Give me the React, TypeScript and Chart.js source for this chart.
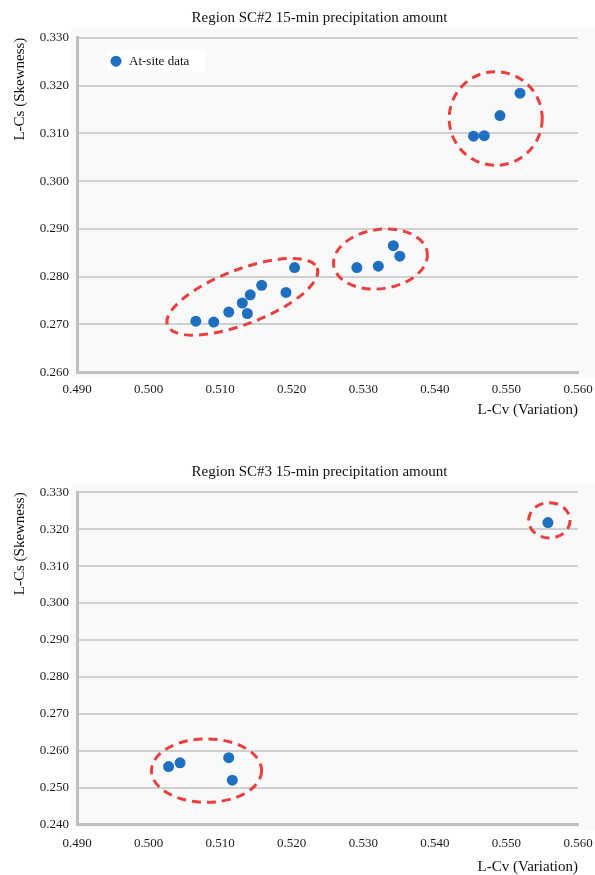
import React, { useEffect, useRef } from "react";
import { Chart, registerables } from "chart.js";

Chart.register(...registerables);

const FONT = "'Liberation Serif', 'Times New Roman', serif";

// Tick values
const xTicks = [0.49, 0.5, 0.51, 0.52, 0.53, 0.54, 0.55, 0.56];
const yTicksSC2 = [0.26, 0.27, 0.28, 0.29, 0.3, 0.31, 0.32, 0.33];
const yTicksSC3 = [0.24, 0.25, 0.26, 0.27, 0.28, 0.29, 0.3, 0.31, 0.32, 0.33];

// Region SC#2 at-site data
const sc2Lcv = [0.5066, 0.5091, 0.5112, 0.5131, 0.5142, 0.5138, 0.5158, 0.5192, 0.5204, 0.5291, 0.5321, 0.5342, 0.5351, 0.5454, 0.5469, 0.5491, 0.5519];
const sc2Lcs = [0.2707, 0.2705, 0.2726, 0.2745, 0.2762, 0.2723, 0.2782, 0.2767, 0.2819, 0.2819, 0.2822, 0.2865, 0.2843, 0.3094, 0.3095, 0.3137, 0.3184];

// Region SC#3 at-site data
const sc3Lcv = [0.5028, 0.5044, 0.5112, 0.5117, 0.5558];
const sc3Lcs = [0.2557, 0.2567, 0.2581, 0.252, 0.3218];

// Group outlines (data units: centre, half-extents, rotation in degrees)
const sc2Groups = [
  { x: 0.5131, y: 0.2758, rx: 0.0112, ry: 0.0057, rot: -21 },
  { x: 0.5324, y: 0.2837, rx: 0.0066, ry: 0.0062, rot: -8 },
  { x: 0.5485, y: 0.3131, rx: 0.0065, ry: 0.0098, rot: 0 },
];
const sc3Groups = [
  { x: 0.5081, y: 0.2546, rx: 0.0077, ry: 0.0086, rot: 0 },
  { x: 0.556, y: 0.3224, rx: 0.0029, ry: 0.0048, rot: 0 },
];

type Group = { x: number; y: number; rx: number; ry: number; rot: number };

type PanelProps = {
  title: string;
  xs: number[];
  ys: number[];
  yTicks: number[];
  groups: Group[];
  legend: boolean;
  height: number;
  padTop: number;
  padBottom: number;
  xAxisH: number;
  xTickPad: number;
};

function Panel(p: PanelProps) {
  const ref = useRef<HTMLCanvasElement>(null);
  useEffect(() => {
    const canvas = ref.current!;
    const bgPlugin = {
      id: "panelBg",
      beforeDraw(chart: any) {
        const { ctx, chartArea } = chart;
        ctx.save();
        ctx.fillStyle = "#ffffff";
        ctx.fillRect(0, 0, chart.width, chart.height);
        ctx.fillStyle = "#f9f9f9";
        ctx.fillRect(chartArea.left - 6, chartArea.top - 9, chart.width - chartArea.left + 6, chartArea.bottom - chartArea.top + 14);
        ctx.restore();
      },
    };
    const ellipsePlugin = {
      id: "groupOutlines",
      afterDatasetsDraw(chart: any) {
        const { ctx } = chart;
        const sx = chart.scales.x;
        const sy = chart.scales.y;
        ctx.save();
        for (const e of p.groups) {
          const cx = sx.getPixelForValue(e.x);
          const cy = sy.getPixelForValue(e.y);
          const rx = Math.abs(sx.getPixelForValue(e.x + e.rx) - cx);
          const ry = Math.abs(sy.getPixelForValue(e.y + e.ry) - cy);
          ctx.beginPath();
          ctx.ellipse(cx, cy, rx, ry, (e.rot * Math.PI) / 180, 0, Math.PI * 2);
          ctx.setLineDash([9, 6]);
          ctx.lineWidth = 3;
          ctx.strokeStyle = "#e8403e";
          ctx.stroke();
        }
        ctx.restore();
      },
    };
    const titlePlugin = {
      id: "panelTitle",
      afterDraw(chart: any) {
        const { ctx, chartArea } = chart;
        ctx.save();
        ctx.font = `15px ${FONT}`;
        ctx.fillStyle = "#111111";
        ctx.textAlign = "center";
        ctx.textBaseline = "middle";
        ctx.fillText(p.title, (chartArea.left + chartArea.right) / 2 - 8, chartArea.top - 20);
        ctx.restore();
      },
    };
    const legendPlugin = {
      id: "insideLegend",
      afterDraw(chart: any) {
        if (!p.legend) return;
        const { ctx, chartArea } = chart;
        const ds = chart.data.datasets[0];
        const bx = chartArea.left + 30;
        const by = chartArea.top + 12;
        ctx.save();
        ctx.fillStyle = "#ffffff";
        ctx.fillRect(bx, by, 98, 22);
        ctx.beginPath();
        ctx.arc(bx + 9, by + 11.5, 5.5, 0, Math.PI * 2);
        ctx.fillStyle = ds.backgroundColor;
        ctx.fill();
        ctx.font = `13px ${FONT}`;
        ctx.fillStyle = "#111111";
        ctx.textAlign = "left";
        ctx.textBaseline = "middle";
        ctx.fillText(ds.label, bx + 22, by + 12);
        ctx.restore();
      },
    };

    const chart = new Chart(canvas, {
      type: "scatter",
      data: {
        datasets: [
          {
            label: "At-site data",
            data: p.xs.map((x, i) => ({ x, y: p.ys[i] })),
            backgroundColor: "#1f6fc0",
            borderColor: "#1f6fc0",
            borderWidth: 0,
            pointRadius: 5.5,
            pointHoverRadius: 5.5,
          },
        ],
      },
      options: {
        responsive: false,
        animation: false,
        devicePixelRatio: 1,
        layout: { padding: { top: p.padTop, left: 0, right: 17, bottom: p.padBottom } },
        plugins: {
          legend: { display: false },
          tooltip: { enabled: false },
          title: { display: false },
        },
        scales: {
          x: {
            type: "linear",
            min: xTicks[0],
            max: xTicks[xTicks.length - 1],
            afterBuildTicks: (s: any) => {
              s.ticks = xTicks.map((v) => ({ value: v }));
            },
            afterFit: (s: any) => {
              s.height = p.xAxisH;
              s.paddingLeft = 0;
              s.paddingRight = 0;
            },
            grid: { display: false, drawTicks: false },
            border: { display: true, width: 3, color: "#c0c0c0" },
            ticks: {
              padding: p.xTickPad,
              color: "#1a1a1a",
              font: { family: FONT, size: 13 },
              maxRotation: 0,
              autoSkip: false,
              callback: (v: any) => Number(v).toFixed(3),
            },
            title: {
              display: true,
              text: "L-Cv (Variation)",
              align: "end",
              color: "#111111",
              font: { family: FONT, size: 15, lineHeight: 1 },
              padding: { top: 0, bottom: 0 },
            },
          },
          y: {
            type: "linear",
            min: p.yTicks[0],
            max: p.yTicks[p.yTicks.length - 1],
            afterBuildTicks: (s: any) => {
              s.ticks = p.yTicks.map((v) => ({ value: v }));
            },
            afterFit: (s: any) => {
              s.width = 77;
              s.paddingTop = 0;
              s.paddingBottom = 0;
            },
            grid: { color: "#d0d0d0", lineWidth: 2, drawTicks: false },
            border: { display: true, width: 3, color: "#c0c0c0" },
            ticks: {
              padding: 8,
              color: "#1a1a1a",
              font: { family: FONT, size: 13 },
              autoSkip: false,
              callback: (v: any) => Number(v).toFixed(3),
            },
            title: {
              display: true,
              text: "L-Cs (Skewness)",
              align: "end",
              color: "#111111",
              font: { family: FONT, size: 15, lineHeight: 1 },
              padding: { top: 12.5, bottom: 0 },
            },
          },
        },
      } as any,
      plugins: [bgPlugin, ellipsePlugin, titlePlugin, legendPlugin],
    });
    return () => chart.destroy();
  }, []);
  return <canvas ref={ref} width={595} height={p.height} style={{ display: "block", width: 595, height: p.height }} />;
}

export default function App() {
  return (
    <div style={{ position: "absolute", left: 0, top: 0, width: 595, height: 875, overflow: "hidden", background: "#ffffff" }}>
      <div style={{ position: "absolute", left: 0, top: 0 }}>
        <Panel
          title="Region SC#2 15-min precipitation amount"
          xs={sc2Lcv}
          ys={sc2Lcs}
          yTicks={yTicksSC2}
          groups={sc2Groups}
          legend={true}
          height={430}
          padTop={37.7}
          padBottom={12.5}
          xAxisH={45.2}
          xTickPad={9}
        />
      </div>
      <div style={{ position: "absolute", left: 0, top: 438 }}>
        <Panel
          title="Region SC#3 15-min precipitation amount"
          xs={sc3Lcv}
          ys={sc3Lcs}
          yTicks={yTicksSC3}
          groups={sc3Groups}
          legend={false}
          height={437}
          padTop={54.3}
          padBottom={0}
          xAxisH={50.5}
          xTickPad={11}
        />
      </div>
    </div>
  );
}
